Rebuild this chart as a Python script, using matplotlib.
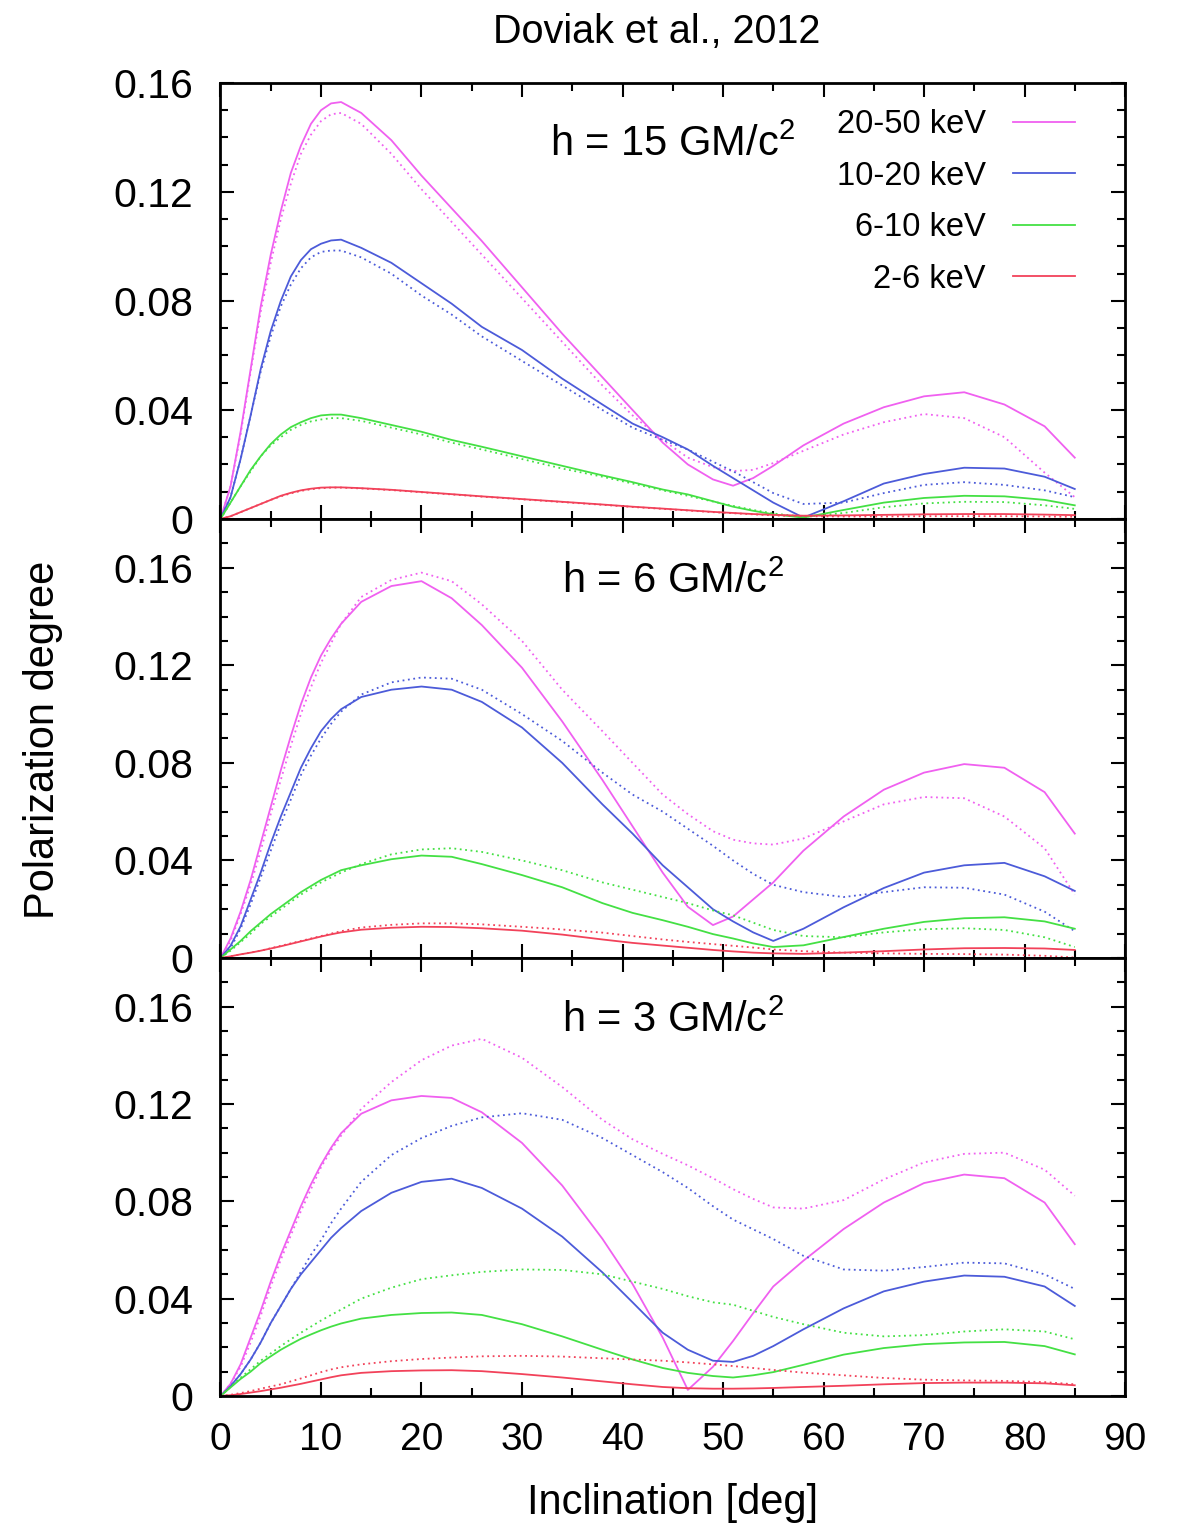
import matplotlib
matplotlib.use('Agg')

import matplotlib.pyplot as plt
from matplotlib.ticker import MultipleLocator, FixedLocator, FixedFormatter

plt.rcParams['font.family'] = ['Liberation Sans', 'DejaVu Sans']
plt.rcParams['mathtext.fontset'] = 'custom'
plt.rcParams['mathtext.rm'] = 'Liberation Sans'

# inclination grid (deg), shared by every curve
incl = [0, 1, 2, 3, 4, 5, 6, 7, 8, 9, 10, 11, 12, 14, 17, 20, 23, 26, 30, 34, 38, 41, 44, 46.5,
        49, 51, 53, 55, 58, 62, 66, 70, 74, 78, 82, 85]

bands = ['20-50 keV', '10-20 keV', '6-10 keV', '2-6 keV']
colors = ['#f060f0', '#4c5bd9', '#44e044', '#f2425a']

# h = 15 GM/c^2 (solid / dotted)
h15_2050 = [0, 0.012, 0.032, 0.055, 0.078, 0.097, 0.113, 0.127, 0.137, 0.145, 0.150, 0.1525, 0.153,
            0.149, 0.139, 0.126, 0.114, 0.102, 0.085, 0.068, 0.052, 0.040, 0.028, 0.020, 0.0145,
            0.0122, 0.015, 0.0195, 0.027, 0.035, 0.041, 0.045, 0.0465, 0.042, 0.034, 0.0225]
h15_2050_dot = [0, 0.012, 0.031, 0.054, 0.076, 0.094, 0.110, 0.123, 0.134, 0.141, 0.146, 0.1485, 0.149,
                0.145, 0.134, 0.121, 0.109, 0.097, 0.081, 0.065, 0.049, 0.038, 0.029, 0.0225, 0.019,
                0.0176, 0.018, 0.0205, 0.025, 0.031, 0.0355, 0.0385, 0.037, 0.030, 0.017, 0.008]
h15_1020 = [0, 0.008, 0.022, 0.038, 0.055, 0.069, 0.080, 0.089, 0.095, 0.099, 0.101, 0.1022, 0.1025,
            0.0995, 0.094, 0.0865, 0.079, 0.0705, 0.062, 0.0515, 0.042, 0.035, 0.030, 0.0255, 0.0195,
            0.015, 0.0105, 0.006, 0.0005, 0.0065, 0.013, 0.0165, 0.0188, 0.0185, 0.0155, 0.011]
h15_1020_dot = [0, 0.008, 0.022, 0.038, 0.054, 0.067, 0.078, 0.086, 0.092, 0.096, 0.098, 0.0985, 0.0985,
                0.096, 0.090, 0.082, 0.075, 0.067, 0.058, 0.049, 0.040, 0.0335, 0.029, 0.0255, 0.021,
                0.0175, 0.0135, 0.0095, 0.0055, 0.006, 0.0095, 0.0125, 0.0135, 0.0125, 0.0105, 0.008]
h15_610 = [0, 0.006, 0.012, 0.018, 0.023, 0.0275, 0.031, 0.0337, 0.0355, 0.037, 0.038, 0.0383, 0.0383,
           0.037, 0.0345, 0.032, 0.029, 0.0265, 0.023, 0.0195, 0.016, 0.0135, 0.0108, 0.009, 0.0065,
           0.0045, 0.003, 0.0017, 0.0005, 0.0033, 0.006, 0.0077, 0.0085, 0.0083, 0.007, 0.005]
h15_610_dot = [0, 0.006, 0.012, 0.0175, 0.023, 0.027, 0.030, 0.0327, 0.0345, 0.0358, 0.0365, 0.037,
               0.037, 0.036, 0.0335, 0.031, 0.028, 0.0255, 0.022, 0.0185, 0.0155, 0.013, 0.0105, 0.0085,
               0.0064, 0.0048, 0.0033, 0.002, 0.0008, 0.0022, 0.0043, 0.0057, 0.0063, 0.0062, 0.005,
               0.0037]
h15_26 = [0, 0.001, 0.0025, 0.004, 0.0055, 0.007, 0.0085, 0.0096, 0.0105, 0.0111, 0.0115, 0.0116,
          0.0116, 0.0113, 0.0107, 0.0099, 0.0091, 0.0083, 0.0073, 0.0063, 0.0053, 0.0045, 0.0038,
          0.0032, 0.0026, 0.0022, 0.0018, 0.0015, 0.0012, 0.0013, 0.0015, 0.0017, 0.0018, 0.0018,
          0.0016, 0.0014]
h15_26_dot = [0, 0.001, 0.0025, 0.004, 0.0055, 0.007, 0.0083, 0.0094, 0.0103, 0.0109, 0.0113, 0.0115,
              0.0115, 0.0112, 0.0106, 0.0098, 0.009, 0.0082, 0.0072, 0.0062, 0.0052, 0.0044, 0.0037,
              0.0031, 0.0025, 0.0021, 0.0017, 0.0013, 0.001, 0.0009, 0.0009, 0.001, 0.001, 0.001,
              0.0009, 0.0008]

# h = 6 GM/c^2
h6_2050 = [0, 0.008, 0.019, 0.032, 0.047, 0.062, 0.077, 0.091, 0.104, 0.115, 0.124, 0.131, 0.137,
           0.146, 0.1525, 0.1545, 0.1475, 0.1365, 0.119, 0.097, 0.073, 0.054, 0.035, 0.021, 0.0135,
           0.017, 0.024, 0.031, 0.044, 0.058, 0.069, 0.076, 0.0795, 0.078, 0.068, 0.051]
h6_2050_dot = [0, 0.007, 0.018, 0.030, 0.044, 0.059, 0.073, 0.087, 0.100, 0.111, 0.121, 0.129, 0.137,
               0.148, 0.155, 0.158, 0.1545, 0.145, 0.130, 0.110, 0.093, 0.080, 0.067, 0.059, 0.052,
               0.0485, 0.047, 0.0465, 0.049, 0.056, 0.063, 0.066, 0.0655, 0.058, 0.045, 0.026]
h6_1020 = [0, 0.005, 0.013, 0.024, 0.035, 0.047, 0.058, 0.068, 0.078, 0.086, 0.093, 0.098, 0.102,
           0.107, 0.110, 0.1113, 0.110, 0.105, 0.0945, 0.080, 0.063, 0.051, 0.038, 0.029, 0.020,
           0.015, 0.0105, 0.007, 0.012, 0.0208, 0.0287, 0.035, 0.038, 0.039, 0.0335, 0.0275]
h6_1020_dot = [0, 0.004, 0.012, 0.022, 0.033, 0.044, 0.055, 0.065, 0.075, 0.083, 0.090, 0.096, 0.101,
               0.108, 0.113, 0.115, 0.1145, 0.110, 0.100, 0.089, 0.076, 0.067, 0.060, 0.053, 0.046,
               0.040, 0.0345, 0.030, 0.027, 0.025, 0.027, 0.029, 0.0288, 0.026, 0.019, 0.011]
h6_610 = [0, 0.0035, 0.007, 0.011, 0.0145, 0.018, 0.021, 0.024, 0.027, 0.0295, 0.032, 0.034, 0.036,
          0.038, 0.0405, 0.042, 0.0415, 0.0385, 0.034, 0.029, 0.0225, 0.0185, 0.0155, 0.0128, 0.0098,
          0.008, 0.006, 0.0045, 0.0052, 0.0086, 0.012, 0.0148, 0.0163, 0.0167, 0.015, 0.012]
h6_610_dot = [0, 0.003, 0.0065, 0.010, 0.014, 0.017, 0.020, 0.023, 0.026, 0.0285, 0.031, 0.033, 0.035,
              0.0385, 0.0425, 0.0445, 0.045, 0.0435, 0.040, 0.036, 0.031, 0.028, 0.025, 0.0225, 0.0195,
              0.0175, 0.0145, 0.0115, 0.009, 0.0085, 0.0105, 0.0118, 0.0122, 0.0115, 0.0085, 0.0045]
h6_26 = [0, 0.0007, 0.0015, 0.0022, 0.003, 0.0039, 0.0048, 0.0058, 0.0068, 0.0078, 0.0088, 0.0097,
         0.0105, 0.0116, 0.0124, 0.0128, 0.0127, 0.0122, 0.0112, 0.0096, 0.0076, 0.0062, 0.0051,
         0.0042, 0.0033, 0.0027, 0.0022, 0.0019, 0.0017, 0.0022, 0.0028, 0.0035, 0.004, 0.0041,
         0.0039, 0.0033]
h6_26_dot = [0, 0.0007, 0.0015, 0.0022, 0.003, 0.004, 0.005, 0.006, 0.007, 0.008, 0.009, 0.010, 0.011,
             0.0125, 0.0136, 0.0142, 0.0142, 0.0138, 0.0128, 0.0117, 0.0104, 0.009, 0.0076, 0.0066,
             0.0057, 0.005, 0.0043, 0.0035, 0.0028, 0.0022, 0.0019, 0.0017, 0.0016, 0.0014, 0.0009,
             0.0002]

# h = 3 GM/c^2
h3_2050 = [0, 0.005, 0.013, 0.024, 0.035, 0.047, 0.058, 0.068, 0.078, 0.087, 0.095, 0.102, 0.108,
           0.116, 0.1215, 0.1233, 0.1225, 0.1166, 0.104, 0.0865, 0.0646, 0.046, 0.024, 0.0025, 0.012,
           0.0226, 0.034, 0.045, 0.0556, 0.0686, 0.0795, 0.0875, 0.091, 0.0895, 0.0795, 0.0624]
h3_2050_dot = [0, 0.005, 0.012, 0.022, 0.033, 0.045, 0.056, 0.066, 0.076, 0.085, 0.094, 0.101, 0.107,
               0.118, 0.129, 0.138, 0.144, 0.1468, 0.139, 0.127, 0.1135, 0.1055, 0.0995, 0.0948, 0.0895,
               0.085, 0.081, 0.0775, 0.077, 0.0805, 0.089, 0.096, 0.0995, 0.100, 0.093, 0.0823]
h3_1020 = [0, 0.004, 0.009, 0.015, 0.022, 0.030, 0.037, 0.044, 0.050, 0.055, 0.060, 0.065, 0.069,
           0.076, 0.0835, 0.088, 0.0893, 0.0855, 0.077, 0.0655, 0.0508, 0.0385, 0.026, 0.019, 0.0145,
           0.014, 0.0165, 0.0205, 0.0274, 0.036, 0.043, 0.047, 0.0495, 0.049, 0.045, 0.037]
h3_1020_dot = [0, 0.004, 0.009, 0.015, 0.022, 0.030, 0.037, 0.044, 0.051, 0.058, 0.064, 0.071, 0.077,
               0.088, 0.099, 0.106, 0.111, 0.1145, 0.1162, 0.1135, 0.106, 0.099, 0.092, 0.0855, 0.078,
               0.0725, 0.0685, 0.0645, 0.0576, 0.052, 0.0515, 0.053, 0.0548, 0.0545, 0.050, 0.044]
h3_610 = [0, 0.0035, 0.007, 0.010, 0.0135, 0.0163, 0.019, 0.0213, 0.0235, 0.0253, 0.027, 0.0285,
          0.0298, 0.0318, 0.0333, 0.0341, 0.0343, 0.0333, 0.0295, 0.0245, 0.019, 0.015, 0.0115,
          0.0095, 0.0082, 0.0076, 0.0085, 0.0098, 0.0128, 0.017, 0.0197, 0.0213, 0.022, 0.0222,
          0.0205, 0.0171]
h3_610_dot = [0, 0.0037, 0.0075, 0.011, 0.0145, 0.0175, 0.0205, 0.0233, 0.026, 0.0285, 0.031, 0.0333,
              0.0355, 0.040, 0.0445, 0.048, 0.0496, 0.051, 0.052, 0.0518, 0.050, 0.047, 0.044, 0.041,
              0.0385, 0.0375, 0.035, 0.0325, 0.0295, 0.026, 0.0245, 0.025, 0.0265, 0.0274, 0.0265,
              0.0233]
h3_26 = [0, 0.0003, 0.0008, 0.0014, 0.002, 0.0027, 0.0034, 0.0042, 0.005, 0.0059, 0.0068, 0.0077,
         0.0085, 0.0095, 0.0102, 0.0105, 0.0106, 0.0102, 0.009, 0.0076, 0.006, 0.0048, 0.0037,
         0.0032, 0.003, 0.003, 0.0031, 0.0033, 0.0037, 0.0042, 0.0048, 0.0053, 0.0055, 0.0055,
         0.0052, 0.0044]
h3_26_dot = [0, 0.0005, 0.0012, 0.002, 0.003, 0.0039, 0.0048, 0.006, 0.0072, 0.0085, 0.0098, 0.0109,
             0.0118, 0.013, 0.0143, 0.0152, 0.0158, 0.0163, 0.0165, 0.0162, 0.0155, 0.015, 0.0145,
             0.0138, 0.013, 0.0123, 0.0115, 0.0107, 0.0096, 0.0085, 0.0074, 0.0067, 0.0064, 0.0062,
             0.0057, 0.0048]

panels = [
    ('h = 15 GM/c$^{\\mathregular{2}}$', [h15_2050, h15_1020, h15_610, h15_26],
     [h15_2050_dot, h15_1020_dot, h15_610_dot, h15_26_dot], 0.16),
    ('h = 6 GM/c$^{\\mathregular{2}}$', [h6_2050, h6_1020, h6_610, h6_26],
     [h6_2050_dot, h6_1020_dot, h6_610_dot, h6_26_dot], 0.18),
    ('h = 3 GM/c$^{\\mathregular{2}}$', [h3_2050, h3_1020, h3_610, h3_26],
     [h3_2050_dot, h3_1020_dot, h3_610_dot, h3_26_dot], 0.18),
]

ytick_vals = [0, 0.04, 0.08, 0.12, 0.16]
ytick_labels = ['0', '0.04', '0.08', '0.12', '0.16']

fig = plt.figure(figsize=(11.81, 15.25), dpi=100)

left, width = 0.1867, 0.7659
bottoms = [0.6597, 0.3718, 0.0846]
heights = [0.2859, 0.2879, 0.2872]

axes = []
for k, (label, solid, dotted, ytop) in enumerate(panels):
    ax = fig.add_axes([left, bottoms[k], width, heights[k]])
    axes.append(ax)
    for i in range(4):
        ax.plot(incl, dotted[i], color=colors[i], lw=1.3, linestyle=(0, (1, 2)))
        ax.plot(incl, solid[i], color=colors[i], lw=1.3, label=bands[i])

    ax.set_xlim(0, 90)
    ax.set_ylim(0, ytop)
    ax.xaxis.set_major_locator(MultipleLocator(10))
    ax.xaxis.set_minor_locator(MultipleLocator(5))
    ax.yaxis.set_major_locator(FixedLocator(ytick_vals))
    ax.yaxis.set_major_formatter(FixedFormatter(ytick_labels))
    ax.yaxis.set_minor_locator(MultipleLocator(0.01))
    ax.tick_params(which='both', direction='in', top=True, right=True, width=1.5)
    ax.tick_params(which='major', length=10)
    ax.tick_params(axis='y', which='major', labelsize=29.5, pad=19.5)
    ax.tick_params(axis='x', which='major', labelsize=28, pad=19)
    ax.tick_params(which='minor', length=5.5)
    for sp in ax.spines.values():
        sp.set_linewidth(2)
    if k < 2:
        ax.tick_params(axis='x', labelbottom=False)

    ax.text(0.5, 0.832, label, transform=ax.transAxes, ha='center', va='baseline', fontsize=30)

axes[0].legend(loc='upper right', bbox_to_anchor=(0.945, 0.94), frameon=False, markerfirst=False,
               fontsize=23.5, handlelength=1.9, handletextpad=0.85, labelspacing=0.63,
               borderpad=0, borderaxespad=0)

axes[2].set_xlabel('Inclination [deg]', fontsize=30, labelpad=18)
fig.text(0.036, 0.515, 'Polarization degree', rotation=90, ha='center', va='center', fontsize=30)
fig.text(0.556, 0.979, 'Doviak et al., 2012', ha='center', va='center', fontsize=28.5)

fig.savefig('out.png', dpi=100)
